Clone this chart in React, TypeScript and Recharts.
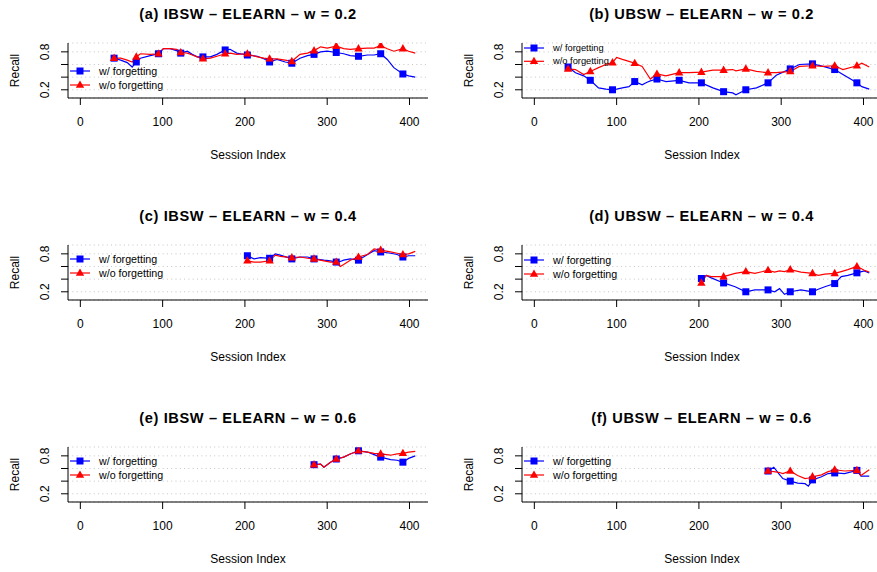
import { LineChart, Line, XAxis, YAxis, CartesianGrid, Legend } from 'recharts';

const BLUE = '#0000FF';
const RED = '#FF0000';
const FONT = '"Liberation Sans", Arial, Helvetica, sans-serif';

// sessions that carry a point symbol
const markerSessions = [41, 68, 95, 122, 149, 176, 203, 230, 257, 284, 311, 338, 365, 392];
const xTicks = [0, 100, 200, 300, 400];
const yTicks = [0.2, 0.4, 0.6, 0.8];
const yLabeled = [0.2, 0.8];
const seriesNames = ['w/ forgetting', 'w/o forgetting'];

const titles = [
  '(a) IBSW – ELEARN – w = 0.2',
  '(b) UBSW – ELEARN – w = 0.2',
  '(c) IBSW – ELEARN – w = 0.4',
  '(d) UBSW – ELEARN – w = 0.4',
  '(e) IBSW – ELEARN – w = 0.6',
  '(f) UBSW – ELEARN – w = 0.6',
];

// (a)
const sessionsA = [41, 49, 57, 63, 68, 73, 85, 95, 101, 109, 117, 122, 130, 136, 142, 149, 158, 166, 176, 182, 190, 203, 215, 223, 230, 239, 249, 257, 267, 276, 284, 292, 300, 311, 320, 328, 338, 349, 357, 365, 373, 381, 392, 399, 407];
const withA = [0.70, 0.67, 0.63, 0.56, 0.64, 0.70, 0.74, 0.77, 0.85, 0.85, 0.82, 0.78, 0.81, 0.76, 0.72, 0.72, 0.72, 0.76, 0.83, 0.84, 0.78, 0.75, 0.73, 0.69, 0.64, 0.68, 0.64, 0.62, 0.70, 0.74, 0.76, 0.80, 0.81, 0.79, 0.77, 0.74, 0.73, 0.75, 0.75, 0.77, 0.68, 0.55, 0.45, 0.42, 0.40];
const withoutA = [0.70, 0.70, 0.67, 0.64, 0.72, 0.77, 0.76, 0.77, 0.85, 0.85, 0.84, 0.79, 0.78, 0.75, 0.72, 0.69, 0.70, 0.73, 0.77, 0.78, 0.76, 0.77, 0.72, 0.70, 0.69, 0.69, 0.67, 0.65, 0.76, 0.78, 0.82, 0.88, 0.86, 0.89, 0.85, 0.84, 0.85, 0.86, 0.86, 0.90, 0.85, 0.81, 0.85, 0.81, 0.78];

// (b)
const sessionsB = [41, 50, 60, 68, 78, 87, 95, 100, 107, 115, 122, 131, 137, 141, 149, 160, 176, 188, 203, 217, 230, 241, 245, 257, 270, 284, 294, 311, 322, 338, 351, 365, 375, 392, 398, 407];
const withB = [0.56, 0.47, 0.42, 0.35, 0.23, 0.21, 0.20, 0.21, 0.23, 0.25, 0.33, 0.28, 0.32, 0.34, 0.37, 0.33, 0.35, 0.31, 0.31, 0.23, 0.17, 0.15, 0.12, 0.20, 0.23, 0.31, 0.43, 0.53, 0.60, 0.61, 0.57, 0.52, 0.44, 0.31, 0.25, 0.21];
const withoutB = [0.53, 0.52, 0.44, 0.49, 0.55, 0.60, 0.63, 0.71, 0.68, 0.65, 0.62, 0.57, 0.45, 0.37, 0.45, 0.42, 0.47, 0.47, 0.48, 0.51, 0.51, 0.52, 0.50, 0.53, 0.49, 0.47, 0.47, 0.49, 0.57, 0.58, 0.57, 0.58, 0.52, 0.58, 0.62, 0.56];

// (c)
const sessionsC = [203, 211, 219, 230, 237, 243, 257, 267, 276, 284, 296, 304, 311, 316, 320, 328, 338, 349, 357, 365, 377, 385, 392, 399, 407];
const withC = [0.77, 0.72, 0.74, 0.73, 0.80, 0.78, 0.72, 0.75, 0.75, 0.72, 0.70, 0.69, 0.67, 0.68, 0.70, 0.72, 0.70, 0.79, 0.85, 0.83, 0.81, 0.79, 0.75, 0.77, 0.77];
const withoutC = [0.69, 0.67, 0.67, 0.69, 0.78, 0.76, 0.74, 0.75, 0.73, 0.72, 0.69, 0.67, 0.67, 0.60, 0.63, 0.70, 0.75, 0.79, 0.88, 0.86, 0.83, 0.81, 0.79, 0.80, 0.84];

// (d)
const sessionsD = [203, 209, 215, 230, 244, 257, 268, 284, 292, 298, 304, 311, 324, 338, 345, 353, 365, 373, 381, 392, 401, 407];
const withD = [0.41, 0.46, 0.42, 0.34, 0.28, 0.20, 0.23, 0.23, 0.20, 0.25, 0.16, 0.20, 0.23, 0.20, 0.24, 0.28, 0.33, 0.44, 0.46, 0.50, 0.53, 0.50];
const withoutD = [0.34, 0.46, 0.44, 0.44, 0.49, 0.52, 0.49, 0.54, 0.51, 0.53, 0.52, 0.55, 0.51, 0.49, 0.46, 0.48, 0.49, 0.52, 0.55, 0.60, 0.54, 0.51];

// (e)
const sessionsE = [284, 292, 296, 304, 311, 320, 328, 338, 349, 357, 365, 377, 385, 392, 399, 407];
const withE = [0.66, 0.67, 0.62, 0.70, 0.75, 0.78, 0.83, 0.88, 0.86, 0.82, 0.78, 0.74, 0.73, 0.70, 0.76, 0.80];
const withoutE = [0.66, 0.67, 0.62, 0.70, 0.75, 0.78, 0.83, 0.88, 0.86, 0.84, 0.83, 0.81, 0.83, 0.84, 0.86, 0.87];

// (f)
const sessionsF = [284, 291, 297, 302, 311, 320, 329, 333, 338, 349, 357, 365, 377, 392, 397, 407];
const withF = [0.56, 0.62, 0.52, 0.44, 0.40, 0.37, 0.36, 0.32, 0.42, 0.47, 0.52, 0.53, 0.52, 0.57, 0.48, 0.48];
const withoutF = [0.56, 0.55, 0.54, 0.52, 0.56, 0.49, 0.44, 0.45, 0.47, 0.50, 0.55, 0.58, 0.56, 0.57, 0.49, 0.58];

const toRows = (s: number[], w: number[], wo: number[]) =>
  s.map((v, i) => ({ s: v, w: w[i], wo: wo[i] }));

const panels = [
  { title: titles[0], data: toRows(sessionsA, withA, withoutA), col: 0, row: 0, legY: 71, small: false },
  { title: titles[1], data: toRows(sessionsB, withB, withoutB), col: 1, row: 0, legY: 47.7, small: true },
  { title: titles[2], data: toRows(sessionsC, withC, withoutC), col: 0, row: 1, legY: 57, small: false },
  { title: titles[3], data: toRows(sessionsD, withD, withoutD), col: 1, row: 1, legY: 57.5, small: false },
  { title: titles[4], data: toRows(sessionsE, withE, withoutE), col: 0, row: 2, legY: 56.5, small: false },
  { title: titles[5], data: toRows(sessionsF, withF, withoutF), col: 1, row: 2, legY: 56.5, small: false },
];

const W = 440;
const H = 180;
const MARGIN = { top: 43, right: 12, bottom: 16, left: 0 };
const COL_X = [0, 453.5];
const ROW_Y = [0, 202, 404];

const squareDot = (props: any) => {
  const { cx, cy, payload, index } = props;
  if (!markerSessions.includes(payload.s)) return <g key={`sq-${index}`} />;
  return <rect key={`sq-${index}`} x={cx - 3.5} y={cy - 3.5} width={7} height={7} fill={BLUE} />;
};

const triangleDot = (props: any) => {
  const { cx, cy, payload, index } = props;
  if (!markerSessions.includes(payload.s)) return <g key={`tr-${index}`} />;
  return (
    <polygon
      key={`tr-${index}`}
      points={`${cx},${cy - 4.6} ${cx - 4.2},${cy + 2.8} ${cx + 4.2},${cy + 2.8}`}
      fill={RED}
    />
  );
};

const XTick = (props: any) => {
  const { x, y, payload } = props;
  return (
    <text x={x} y={y + 14.5} textAnchor="middle" dominantBaseline="central" fontSize={12} fontFamily={FONT} fill="#000">
      {payload.value}
    </text>
  );
};

const YTick = (props: any) => {
  const { x, y, payload } = props;
  if (!yLabeled.includes(payload.value)) return <g />;
  const cx = x - 13.5;
  return (
    <text
      x={cx}
      y={y}
      transform={`rotate(-90, ${cx}, ${y})`}
      textAnchor="middle"
      dominantBaseline="central"
      fontSize={12}
      fontFamily={FONT}
      fill="#000"
    >
      {payload.value.toFixed(1)}
    </text>
  );
};

const RecallLabel = (props: any) => {
  const vb = props.viewBox || { x: 0, y: 43, width: 68, height: 55 };
  const cx = vb.x + 15;
  const cy = vb.y + vb.height / 2;
  return (
    <text x={cx} y={cy} transform={`rotate(-90, ${cx}, ${cy})`} textAnchor="middle" dominantBaseline="central" fontSize={12} fontFamily={FONT} fill="#000">
      Recall
    </text>
  );
};

const legendContent = (small: boolean) => () => {
  const fs = small ? 9.3 : 10.7;
  const gap = small ? 13.3 : 14;
  return (
    <svg width={160} height={36} style={{ display: 'block', overflow: 'visible' }}>
      <line x1={4} x2={24} y1={8} y2={8} stroke={BLUE} strokeWidth={1.2} />
      <rect x={10.5} y={4.5} width={7} height={7} fill={BLUE} />
      <text x={33} y={8} dominantBaseline="central" fontSize={fs} fontFamily={FONT} fill="#000">{seriesNames[0]}</text>
      <line x1={4} x2={24} y1={8 + gap} y2={8 + gap} stroke={RED} strokeWidth={1.2} />
      <polygon points={`14,${8 + gap - 4.6} ${9.8},${8 + gap + 2.8} ${18.2},${8 + gap + 2.8}`} fill={RED} />
      <text x={33} y={8 + gap} dominantBaseline="central" fontSize={fs} fontFamily={FONT} fill="#000">{seriesNames[1]}</text>
    </svg>
  );
};

function Panel({ p }: { p: (typeof panels)[number] }) {
  const left = COL_X[p.col];
  const top = ROW_Y[p.row];
  return (
    <div style={{ position: 'absolute', left, top, width: W, height: H }}>
      <div
        style={{
          position: 'absolute',
          left: 68,
          width: 360,
          top: 5,
          textAlign: 'center',
          fontWeight: 'bold',
          fontSize: 14.6,
          letterSpacing: '0.62px',
          fontFamily: FONT,
          lineHeight: '18px',
          whiteSpace: 'nowrap',
        }}
      >
        {p.title}
      </div>
      <LineChart width={W} height={H} data={p.data} margin={MARGIN}>
        <CartesianGrid horizontal vertical={false} stroke="#c4c4c4" strokeDasharray="1 3.3" />
        <XAxis
          dataKey="s"
          type="number"
          domain={[-15, 422.5]}
          ticks={xTicks}
          interval={0}
          allowDataOverflow
          height={66}
          tickSize={7}
          tickMargin={2}
          stroke="#000"
          tick={XTick}
          label={{ value: 'Session Index', position: 'insideBottom', offset: 5, fontSize: 12, fontFamily: FONT, fill: '#000' }}
        />
        <YAxis
          type="number"
          domain={[0.07, 0.94]}
          ticks={yTicks}
          interval={0}
          allowDataOverflow
          width={68}
          tickSize={7}
          tickMargin={2}
          stroke="#000"
          tick={YTick}
          label={{ content: RecallLabel }}
        />
        <Legend
          layout="horizontal"
          verticalAlign="middle"
          align="center"
          content={legendContent(p.small)}
          wrapperStyle={{ left: 66, top: p.legY - 8, width: 160, height: 36 }}
        />
        <Line
          type="linear"
          dataKey="w"
          name={seriesNames[0]}
          stroke={BLUE}
          strokeWidth={1.2}
          dot={squareDot}
          activeDot={false}
          isAnimationActive={false}
        />
        <Line
          type="linear"
          dataKey="wo"
          name={seriesNames[1]}
          stroke={RED}
          strokeWidth={1.2}
          dot={triangleDot}
          activeDot={false}
          isAnimationActive={false}
        />
      </LineChart>
    </div>
  );
}

export default function App() {
  return (
    <div
      style={{
        position: 'absolute',
        left: 0,
        top: 0,
        width: 877,
        height: 572,
        overflow: 'hidden',
        background: '#fff',
        fontFamily: FONT,
      }}
    >
      {panels.map((p) => (
        <Panel key={p.title} p={p} />
      ))}
    </div>
  );
}
